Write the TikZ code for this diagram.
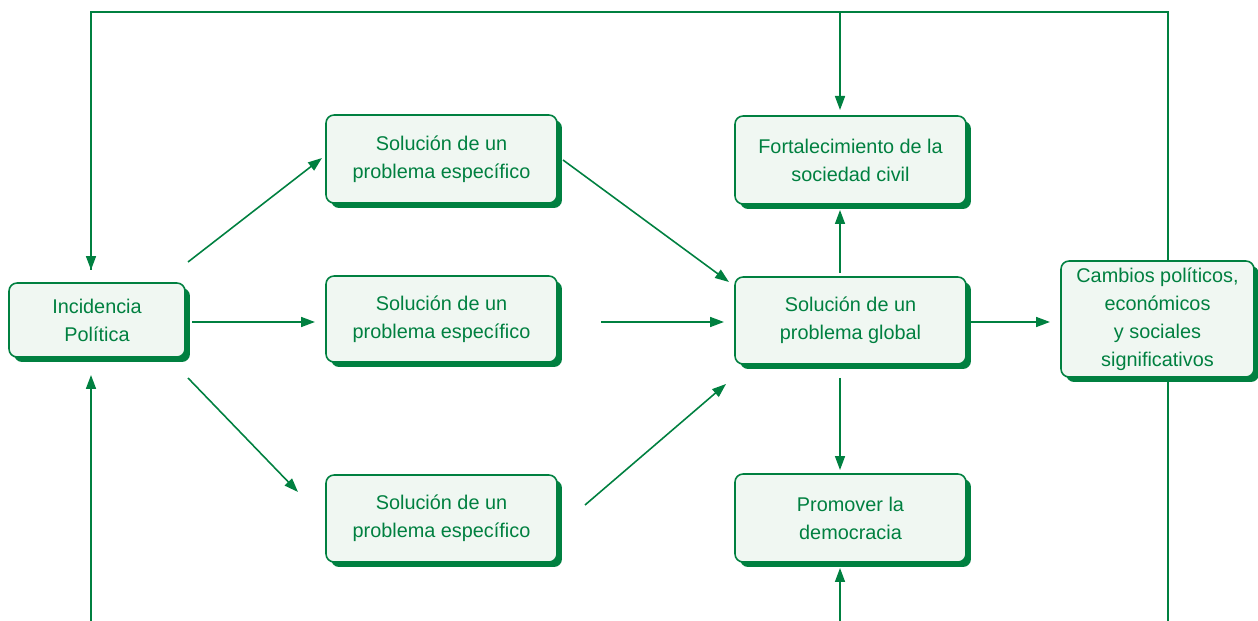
\documentclass[tikz,border=0pt]{standalone}
\usepackage{fontspec}
\setmainfont{Liberation Sans}
\usetikzlibrary{arrows.meta,shadows}
\definecolor{gr}{RGB}{0,128,64}
\definecolor{lt}{RGB}{240,247,242}
\begin{document}
\begin{tikzpicture}[x=0.02cm,y=-0.02cm,
  box/.style={draw=gr,line width=0.9pt,fill=lt,rounded corners=0.16cm,
    drop shadow={shadow xshift=0.1cm,shadow yshift=-0.1cm,fill=gr,opacity=1},
    text=gr,align=center,font=\fontsize{11.3}{15.9}\selectfont,inner sep=0pt},
  con/.style={draw=gr,line width=0.9pt},
  arr/.style={con,-{Triangle[length=0.28cm,width=0.2cm]}}]
\useasboundingbox (0,0) rectangle (1258,621);
\node[box,minimum width=3.52cm,minimum height=1.48cm] (inc) at (97,320) {Incidencia\\Política};
\node[box,minimum width=4.62cm,minimum height=1.76cm] (s1) at (441.5,159) {Solución de un\\problema específico};
\node[box,minimum width=4.62cm,minimum height=1.72cm] (s2) at (441.5,319) {Solución de un\\problema específico};
\node[box,minimum width=4.62cm,minimum height=1.74cm] (s3) at (441.5,518.5) {Solución de un\\problema específico};
\node[box,minimum width=4.62cm,minimum height=1.76cm] (fo) at (850.5,160) {Fortalecimiento de la\\sociedad civil};
\node[box,minimum width=4.62cm,minimum height=1.74cm] (gl) at (850.5,320.5) {Solución de un\\problema global};
\node[box,minimum width=4.62cm,minimum height=1.76cm] (pr) at (850.5,518) {Promover la\\democracia};
\node[box,minimum width=3.86cm,minimum height=2.32cm] (ca) at (1157.5,319) {Cambios políticos,\\económicos\\y sociales\\significativos};
% free ends
\coordinate (t1) at (91,12);
\coordinate (t2) at (1168,12);
\coordinate (t3) at (840,12);
\coordinate (b1) at (91,621);
\coordinate (b2) at (1168,621);
\coordinate (b3) at (840,621);
\coordinate (a1s) at (188,262); \coordinate (a1e) at (322,158);
\coordinate (a2s) at (192,322); \coordinate (a2e) at (315,322);
\coordinate (a3s) at (188,378); \coordinate (a3e) at (298,492);
\coordinate (c1s) at (563,160); \coordinate (c1e) at (729,282);
\coordinate (c2s) at (601,322); \coordinate (c2e) at (724,322);
\coordinate (c3s) at (585,505); \coordinate (c3e) at (726,384);
\coordinate (g1s) at (840,273); \coordinate (g1e) at (840,210);
\coordinate (g2s) at (840,378); \coordinate (g2e) at (840,470);
\coordinate (g3s) at (966,322); \coordinate (g3e) at (1050,322);
\coordinate (i1e) at (91,270);
\coordinate (i2e) at (91,375);
\coordinate (f1e) at (840,110);
\coordinate (p1e) at (840,568);
% loops
\draw[con] (ca.north -| t2) -- (t2) -- (t1) -- (i1e);
\draw[arr] (t1) -- (i1e);
\draw[arr] (t3) -- (f1e);
\draw[arr] (b1) -- (i2e);
\draw[con] (ca.south -| b2) -- (b2);
\draw[arr] (b3) -- (p1e);
% arrows
\draw[arr] (a1s) -- (a1e);
\draw[arr] (a2s) -- (a2e);
\draw[arr] (a3s) -- (a3e);
\draw[arr] (c1s) -- (c1e);
\draw[arr] (c2s) -- (c2e);
\draw[arr] (c3s) -- (c3e);
\draw[arr] (g1s) -- (g1e);
\draw[arr] (g2s) -- (g2e);
\draw[arr] (g3s) -- (g3e);
\end{tikzpicture}
\end{document}
